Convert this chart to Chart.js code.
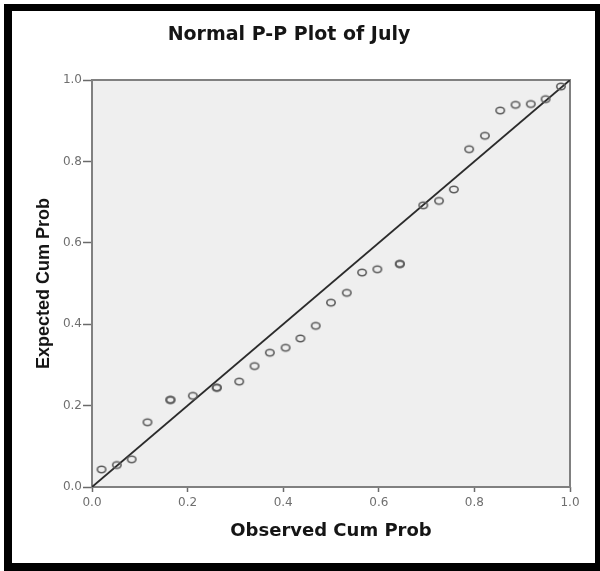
<!DOCTYPE html>
<html>
<head>
<meta charset="utf-8">
<title>Normal P-P Plot of July</title>
<script src="https://cdn.jsdelivr.net/npm/chart.js@4/dist/chart.umd.min.js"></script>
<style>
  html, body { margin: 0; padding: 0; background: #ffffff; }
  #wrap { position: relative; width: 600px; height: 571px; }
  canvas { display: block; }
</style>
</head>
<body>
<div id="wrap"><canvas id="pp" width="600" height="571"></canvas></div>
<script>
// Observed vs. expected cumulative probabilities for July (tied ranks share a point)
const observedCumProb = [0.020, 0.052, 0.083, 0.116, 0.164, 0.164, 0.211, 0.261, 0.261, 0.308, 0.340,
                         0.372, 0.405, 0.436, 0.468, 0.500, 0.533, 0.565, 0.597, 0.644, 0.644,
                         0.693, 0.726, 0.757, 0.789, 0.822, 0.854, 0.886, 0.918, 0.949, 0.981];
const expectedCumProb = [0.043, 0.054, 0.068, 0.159, 0.214, 0.214, 0.224, 0.244, 0.244, 0.259, 0.297,
                         0.330, 0.342, 0.365, 0.396, 0.453, 0.477, 0.527, 0.535, 0.548, 0.548,
                         0.692, 0.703, 0.731, 0.830, 0.863, 0.925, 0.939, 0.941, 0.953, 0.984];
// Reference diagonal (perfect normal fit)
const diagonalX = [0, 1];
const diagonalY = [0, 1];
// Axis ticks
const tickValues = [0, 0.2, 0.4, 0.6, 0.8, 1.0];

const chartTitle = 'Normal P-P Plot of July';
const xTitle = 'Observed Cum Prob';
const yTitle = 'Expected Cum Prob';

// Open ring marker (slightly wide, like the SPSS output)
const ring = document.createElement('canvas');
ring.width = 14; ring.height = 11;
(function () {
  const c = ring.getContext('2d');
  c.strokeStyle = '#5c5c5c';
  c.lineWidth = 1.6;
  c.beginPath();
  c.ellipse(7, 5.5, 4.2, 3.2, 0, 0, Math.PI * 2);
  c.stroke();
})();

const pointData = observedCumProb.map((x, i) => ({ x: x, y: expectedCumProb[i] }));
const lineData = diagonalX.map((x, i) => ({ x: x, y: diagonalY[i] }));

// Grey plot background, frame and the outer black border
const framePlugin = {
  id: 'ppFrame',
  beforeDraw(chart) {
    const { ctx, chartArea: a, width, height } = chart;
    ctx.save();
    ctx.fillStyle = '#ffffff';
    ctx.fillRect(0, 0, width, height);
    ctx.fillStyle = '#efefef';
    ctx.fillRect(a.left, a.top, a.right - a.left, a.bottom - a.top);
    ctx.fillStyle = '#000000';
    ctx.fillRect(4, 4, 596, 7);      // top
    ctx.fillRect(4, 4, 8, 567);      // left
    ctx.fillRect(595, 4, 5, 567);    // right
    ctx.fillRect(4, 563, 596, 8);    // bottom
    ctx.restore();
  },
  beforeDatasetsDraw(chart) {
    const { ctx, chartArea: a } = chart;
    ctx.save();
    ctx.strokeStyle = '#808080';
    ctx.lineWidth = 2;
    ctx.strokeRect(a.left, a.top, a.right - a.left, a.bottom - a.top);
    ctx.restore();
  }
};

const tickFont = { family: 'DejaVu Sans', size: 12 };
const tickColor = '#6f6f6f';

new Chart(document.getElementById('pp'), {
  type: 'scatter',
  data: {
    datasets: [
      {
        label: 'Observed',
        data: pointData,
        pointStyle: ring,
        pointRadius: 5,
        pointHoverRadius: 5,
        order: 1
      },
      {
        label: 'Diagonal',
        data: lineData,
        showLine: true,
        borderColor: '#2b2b2b',
        borderWidth: 1.8,
        pointRadius: 0,
        pointHoverRadius: 0,
        order: 2
      }
    ]
  },
  options: {
    responsive: false,
    devicePixelRatio: 1,
    animation: false,
    events: [],
    layout: { padding: { left: 8, right: 30, top: 0, bottom: 0 } },
    plugins: {
      legend: { display: false },
      tooltip: { enabled: false },
      title: {
        display: true,
        text: chartTitle,
        color: '#151515',
        font: { family: 'DejaVu Sans', size: 19, weight: 'bold', lineHeight: 1.2 },
        padding: { top: 24, bottom: 33.2 }
      }
    },
    scales: {
      x: {
        type: 'linear',
        min: 0,
        max: 1,
        afterBuildTicks(scale) { scale.ticks = tickValues.map(v => ({ value: v })); },
        afterFit(scale) { scale.height = 84; },
        ticks: {
          padding: 4,
          color: tickColor,
          font: tickFont,
          maxRotation: 0,
          callback: v => Number(v).toFixed(1)
        },
        grid: {
          drawOnChartArea: false,
          drawTicks: true,
          tickLength: 5,
          tickWidth: 1.5,
          tickColor: '#6a6a6a'
        },
        border: { display: false },
        title: {
          display: true,
          text: xTitle,
          color: '#151515',
          font: { family: 'DejaVu Sans', size: 18, weight: 'bold', lineHeight: 1.2 },
          padding: { top: 0, bottom: 29 }
        }
      },
      y: {
        type: 'linear',
        min: 0,
        max: 1,
        afterBuildTicks(scale) { scale.ticks = tickValues.map(v => ({ value: v })); },
        afterFit(scale) { scale.width = 84; },
        ticks: {
          padding: 1,
          color: tickColor,
          font: tickFont,
          callback: v => Number(v).toFixed(1)
        },
        grid: {
          drawOnChartArea: false,
          drawTicks: true,
          tickLength: 9,
          tickWidth: 1.5,
          tickColor: '#6a6a6a'
        },
        border: { display: false },
        title: {
          display: true,
          text: yTitle,
          color: '#151515',
          font: { family: 'Liberation Sans', size: 18, weight: 'bold', lineHeight: 1.2 },
          padding: { top: 25, bottom: 0 }
        }
      }
    }
  },
  plugins: [framePlugin]
});
</script>
</body>
</html>
